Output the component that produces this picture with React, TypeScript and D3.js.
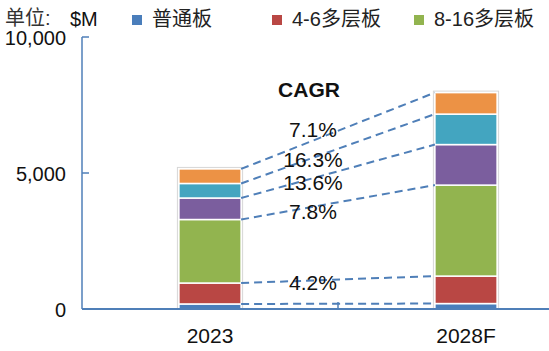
import * as d3 from "d3";

const years = ["2023", "2028F"];
const seriesNames = ["普通板", "4-6多层板", "8-16多层板", "18层以上多层板", "HDI", "封装基板"];
const colors = ["#4a7ebb", "#b94744", "#92b44f", "#7b5e9e", "#43a5c0", "#ec9245"];
const values2023 = [185, 770, 2335, 790, 535, 535];
const values2028 = [200, 1010, 3345, 1490, 1120, 790];
const cagrLabels = ["", "4.2%", "7.8%", "13.6%", "16.3%", "7.1%"];
const labelNudge = [0, 2, 5, 4, 2, -11];
const legendCount = 3;
const legendX = [132, 272, 414];
const yTicks = [0, 5000, 10000];

const W = 549;
const H = 351;
const axisColor = "#4f7fb8";
const latin = "'Liberation Sans', Arial, sans-serif";
const cjk = "'Liberation Sans', 'Noto Sans CJK SC', sans-serif";

export default function App() {
  const rows = years.map((yr, i) => {
    const vals = i === 0 ? values2023 : values2028;
    const row: Record<string, number | string> = { year: yr };
    seriesNames.forEach((s, k) => (row[s] = vals[k]));
    return row;
  });

  const stacked = d3.stack<Record<string, number | string>>().keys(seriesNames)(rows as any);

  const x = d3.scaleBand().domain(years).range([82, 594]).padding(0);
  const y = d3.scaleLinear().domain([0, 10000]).range([309, 37]);
  const barW = x.bandwidth() * 0.243;
  const barX = (yr: string) => x(yr)! + x.bandwidth() / 2 - barW / 2;

  const x0 = barX(years[0]) + barW;
  const x1 = barX(years[1]);
  const labelX = 313;

  return (
    <svg width={W} height={H} style={{ position: "absolute", left: 0, top: 0, background: "#fff" }}>
      {/* legend */}
      <text x={5} y={25} fontSize={20} fontFamily={cjk} fill="#333">单位:</text>
      <text x={70} y={26} fontSize={20} fontFamily={latin} fill="#111">$M</text>
      {seriesNames.slice(0, legendCount).map((s, i) => (
        <g key={s} transform={`translate(${legendX[i]},0)`}>
          <rect x={0} y={15} width={10} height={10} fill={colors[i]} />
          <text x={20} y={26} fontSize={20} fontFamily={cjk} fill="#222">{s}</text>
        </g>
      ))}

      {/* y axis */}
      <line x1={82} x2={82} y1={y(10000)} y2={y(0)} stroke={axisColor} strokeWidth={1.5} />
      {yTicks.map((t) => (
        <g key={t}>
          <line x1={82} x2={89} y1={y(t)} y2={y(t)} stroke={axisColor} strokeWidth={1.5} />
          <text x={66} y={y(t) + 1} dy="0.35em" textAnchor="end" fontSize={20} fontFamily={latin} fill="#111">
            {d3.format(",")(t)}
          </text>
        </g>
      ))}

      {/* bars */}
      {years.map((yr, i) => {
        const top = stacked[stacked.length - 1][i][1];
        return (
          <g key={yr}>
            <rect x={barX(yr) - 1.5} y={y(top) - 1.5} width={barW + 3} height={y(0) - y(top) + 1.5}
              fill="none" stroke="#d6d6d6" strokeWidth={1} />
            {stacked.map((layer, k) => (
              <rect key={layer.key} x={barX(yr)} y={y(layer[i][1])} width={barW}
                height={y(layer[i][0]) - y(layer[i][1])} fill={colors[k]} stroke="#fff" strokeWidth={1.5} />
            ))}
          </g>
        );
      })}

      {/* x axis */}
      <line x1={82} x2={W} y1={y(0)} y2={y(0)} stroke={axisColor} strokeWidth={2} />
      <line x1={x(years[1])!} x2={x(years[1])!} y1={y(0)} y2={y(0) - 7} stroke={axisColor} strokeWidth={1.5} />
      {years.map((yr) => (
        <text key={yr} x={x(yr)! + x.bandwidth() / 2} y={343} textAnchor="middle" fontSize={21}
          fontFamily={latin} fill="#111">{yr}</text>
      ))}

      {/* CAGR connectors */}
      {stacked.map((layer, k) => {
        const ya = y(layer[0][1]);
        const yb = y(layer[1][1]);
        const ly = ya + ((yb - ya) * (labelX - x0)) / (x1 - x0) + labelNudge[k];
        return (
          <g key={layer.key}>
            <line x1={x0} x2={x1} y1={ya} y2={yb} stroke={axisColor} strokeWidth={2} strokeDasharray="8,5" />
            {cagrLabels[k] && (
              <text x={labelX} y={ly} dy="0.35em" textAnchor="middle" fontSize={21} fontFamily={latin} fill="#111">
                {cagrLabels[k]}
              </text>
            )}
          </g>
        );
      })}
      <text x={309} y={97} textAnchor="middle" fontSize={21} fontWeight="bold" fontFamily={latin} fill="#111">CAGR</text>
    </svg>
  );
}
